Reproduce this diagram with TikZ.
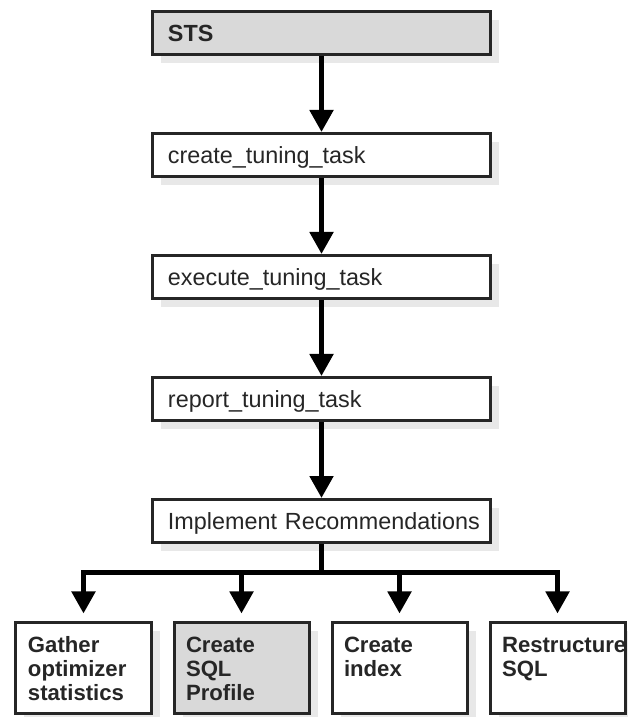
\documentclass[tikz,border=0pt]{standalone}
\usepackage{fontspec}
\setmainfont{Liberation Sans}
\usetikzlibrary{arrows.meta,positioning,shadows}
\tikzset{%
  >={Triangle[width=4.6mm,length=4.4mm]},
  % Specifications for style of nodes:
          base/.style = {rectangle, draw=black!85, line width=0.6mm,
                         text=black!85, align=left,
                         font=\fontsize{13.3pt}{13.8pt}\selectfont,
                         drop shadow={shadow xshift=1.7mm, shadow yshift=-1.7mm,
                                      fill=black!9, opacity=1}},
      taskstep/.style = {base, fill=white, text width=6.14cm,
                         inner xsep=3.1mm, inner ysep=0.4mm,
                         text height=5.6mm, text depth=2.2mm},
       setstep/.style = {taskstep, fill=black!15,
                         font=\fontsize{13.3pt}{13.8pt}\selectfont\bfseries},
    actionstep/.style = {base, fill=white, text width=2.22cm,
                         inner xsep=2.4mm, inner ysep=0.8mm,
                         text height=5.3mm, text depth=11.3mm,
                         font=\fontsize{12.6pt}{13.6pt}\selectfont\bfseries},
   profilestep/.style = {actionstep, fill=black!15},
          flow/.style = {line width=1mm},
}

\begin{document}
\begin{tikzpicture}[x=0.2mm, y=0.2mm, node distance=2.44cm]
  \useasboundingbox (0,0) rectangle (627,717);
  % Specification of nodes (position, etc.)
  \node (onSTS)     [setstep] at (321.5,684)        {STS};
  \node (onCreate)  [taskstep, below of=onSTS]      {create\_tuning\_task};
  \node (onExecute) [taskstep, below of=onCreate]   {execute\_tuning\_task};
  \node (onReport)  [taskstep, below of=onExecute]  {report\_tuning\_task};
  \node (onImpl)    [taskstep, below of=onReport]   {\mbox{Implement Recommendations}};
  \node (onGather)  [actionstep] at (83.5,49)       {Gather\\optimizer\\statistics};
  \node (onProfile) [profilestep, right=4mm of onGather] {Create\\SQL\\Profile};
  \node (onIndex)   [actionstep, right=4mm of onProfile] {Create\\index};
  \node (onRestr)   [actionstep, right=4mm of onIndex]   {\mbox{Restructure}\\SQL};
  \coordinate (onFork) at ([yshift=-5.7mm]onImpl.south);
  \draw[flow,->] (onSTS)     -- (onCreate);
  \draw[flow,->] (onCreate)  -- (onExecute);
  \draw[flow,->] (onExecute) -- (onReport);
  \draw[flow,->] (onReport)  -- (onImpl);
  \draw[flow]    (onImpl)    -- (onFork);
  \draw[flow,->,shorten >=1.5mm] (onFork) -| (onGather);
  \draw[flow,->,shorten >=1.5mm] (onFork) -| (onProfile);
  \draw[flow,->,shorten >=1.5mm] (onFork) -| (onIndex);
  \draw[flow,->,shorten >=1.5mm] (onFork) -| (onRestr);
\end{tikzpicture}
\end{document}
